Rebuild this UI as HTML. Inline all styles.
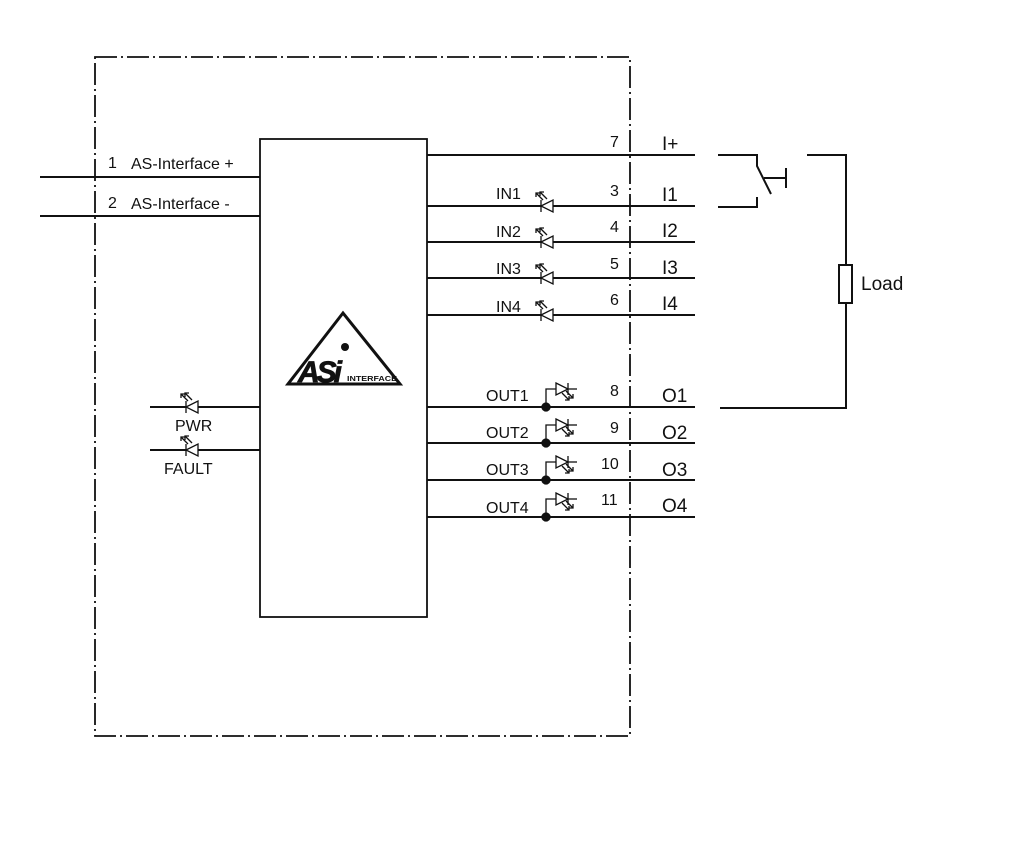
<!DOCTYPE html>
<html><head><meta charset="utf-8"><style>
html,body{margin:0;padding:0;background:#fff}
svg{display:block}
text{font-family:"Liberation Sans",sans-serif;fill:#111}
</style></head><body>
<svg width="1024" height="845" viewBox="0 0 1024 845" xmlns="http://www.w3.org/2000/svg">
<g stroke="#111" stroke-width="2" fill="none">
<rect x="95" y="57" width="535" height="679" stroke-width="1.8" stroke-dasharray="22,4,2,4"/>
<rect x="260" y="139" width="167" height="478" stroke-width="1.8"/>
<line x1="40" y1="177" x2="260" y2="177"/>
<line x1="40" y1="216" x2="260" y2="216"/>
<line x1="150" y1="407" x2="260" y2="407"/>
<line x1="150" y1="450" x2="260" y2="450"/>
<line x1="427" y1="155" x2="695" y2="155"/>
<line x1="427" y1="206" x2="695" y2="206"/>
<line x1="427" y1="242" x2="695" y2="242"/>
<line x1="427" y1="278" x2="695" y2="278"/>
<line x1="427" y1="315" x2="695" y2="315"/>
<line x1="427" y1="407" x2="695" y2="407"/>
<line x1="427" y1="443" x2="695" y2="443"/>
<line x1="427" y1="480" x2="695" y2="480"/>
<line x1="427" y1="517" x2="695" y2="517"/>
<polyline points="718,155 757,155 757,166 771,194"/>
<polyline points="718,207 757,207 757,197"/>
<line x1="764" y1="178" x2="786" y2="178"/>
<line x1="786" y1="168" x2="786" y2="188"/>
<polyline points="807,155 846,155 846,408 720,408"/>
<rect x="839" y="265" width="13" height="38" fill="#fff"/>
<polygon points="343,313 288,384 400,384" stroke-width="3"/>
</g>
<text x="298" y="382" font-size="30" font-weight="bold" font-style="italic" letter-spacing="-3" stroke="#111" stroke-width="0.8">ASi</text>
<circle cx="345" cy="347" r="4" fill="#111"/>
<text x="347" y="381" font-size="7.5" font-weight="bold" textLength="50" lengthAdjust="spacingAndGlyphs">INTERFACE</text>
<defs>
<g id="ledL" stroke="#111" stroke-width="1.3" fill="none">
<polygon points="0,0 12,-6 12,6" fill="#fff"/>
<line x1="0" y1="-6" x2="0" y2="6"/>
<line x1="2" y1="-6" x2="-5" y2="-13"/><polyline points="-5,-9 -5,-13 -1,-13"/>
<line x1="6" y1="-7" x2="-1" y2="-14"/><polyline points="-1,-10 -1,-14 3,-14"/>
</g>
<g id="ledR" stroke="#111" stroke-width="1.3" fill="none">
<polyline points="0,18 0,0 10,0"/>
<polygon points="10,-6 22,0 10,6" fill="#fff"/>
<line x1="22" y1="-6" x2="22" y2="6"/><line x1="22" y1="0" x2="31" y2="0"/>
<line x1="16" y1="4" x2="23" y2="11"/><polyline points="23,7 23,11 19,11"/>
<line x1="20" y1="2" x2="27" y2="9"/><polyline points="27,5 27,9 23,9"/>
<circle cx="0" cy="18" r="4" fill="#111"/>
</g>
</defs>
<use href="#ledL" x="541" y="206"/>
<use href="#ledL" x="541" y="242"/>
<use href="#ledL" x="541" y="278"/>
<use href="#ledL" x="541" y="315"/>
<use href="#ledL" x="186" y="407"/>
<use href="#ledL" x="186" y="450"/>
<use href="#ledR" x="546" y="389"/>
<use href="#ledR" x="546" y="425"/>
<use href="#ledR" x="546" y="462"/>
<use href="#ledR" x="546" y="499"/>
<g font-size="16">
<text x="108" y="168">1</text><text x="131" y="169">AS-Interface +</text>
<text x="108" y="208">2</text><text x="131" y="209">AS-Interface -</text>
<text x="175" y="431">PWR</text>
<text x="164" y="474">FAULT</text>
<text x="496" y="199">IN1</text>
<text x="496" y="237">IN2</text>
<text x="496" y="274">IN3</text>
<text x="496" y="312">IN4</text>
<text x="486" y="401">OUT1</text>
<text x="486" y="438">OUT2</text>
<text x="486" y="475">OUT3</text>
<text x="486" y="513">OUT4</text>
<text x="610" y="147">7</text>
<text x="610" y="196">3</text>
<text x="610" y="232">4</text>
<text x="610" y="269">5</text>
<text x="610" y="305">6</text>
<text x="610" y="396">8</text>
<text x="610" y="433">9</text>
<text x="601" y="469">10</text>
<text x="601" y="505">11</text>
</g>
<g font-size="19">
<text x="662" y="150">I+</text>
<text x="662" y="201">I1</text>
<text x="662" y="237">I2</text>
<text x="662" y="274">I3</text>
<text x="662" y="310">I4</text>
<text x="662" y="402">O1</text>
<text x="662" y="439">O2</text>
<text x="662" y="476">O3</text>
<text x="662" y="512">O4</text>
<text x="861" y="290">Load</text>
</g>
</svg>
</body></html>
